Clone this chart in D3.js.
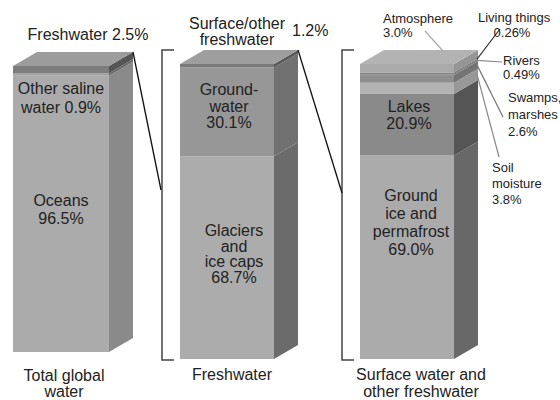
<!DOCTYPE html>
<html><head><meta charset="utf-8">
<script src="https://cdn.jsdelivr.net/npm/d3@7"></script>
<style>body{margin:0;background:#fff}svg{display:block}text{font-family:"Liberation Sans",Arial,sans-serif;fill:#222}</style>
</head><body><svg id="c" width="560" height="400"></svg>
<script>
// ---- data ----
const columns = ["Total global water", "Freshwater", "Surface water and other freshwater"];
const totalCats = ["Oceans", "Other saline water", "Freshwater"];
const totalVals = [96.5, 0.9, 2.5];
const freshCats = ["Glaciers and ice caps", "Groundwater", "Surface/other freshwater"];
const freshVals = [68.7, 30.1, 1.2];
const surfCats = ["Ground ice and permafrost", "Lakes", "Soil moisture", "Swamps, marshes", "Rivers", "Living things", "Atmosphere"];
const surfVals = [69.0, 20.9, 3.8, 2.6, 0.49, 0.26, 3.0];

// ---- styles ----
const frontCol = [["#ababab", "#a2a2a2", "#7c7c7c"],
                  ["#acacac", "#979797", "#7a7a7a"],
                  ["#ababab", "#8a8a8a", "#b3b3b3", "#8e8e8e", "#9c9c9c", "#505050", "#aaaaaa"]];
const sideCol = [["#8a8a8a", "#6a6a6a", "#555555"],
                 ["#6b6b6b", "#717171", "#5a5a5a"],
                 ["#686868", "#555555", "#989898", "#747474", "#808080", "#404040", "#959595"]];
const topCol = ["#9c9c9c", "#9e9e9e", "#b3b3b3"];

const svg = d3.select("#c");
const xLeft = d3.scaleOrdinal().domain(columns).range([13, 180, 360]);
const width = d3.scaleOrdinal().domain(columns).range([96, 94, 94]);
const yTop = d3.scaleOrdinal().domain(columns).range([66, 64, 64]);
const yBot = d3.scaleOrdinal().domain(columns).range([352, 359, 359]);
const DX = 24, DY = -14;

const sets = [[totalCats, totalVals], [freshCats, freshVals], [surfCats, surfVals]];
const yScales = [];

sets.forEach(([cats, vals], i) => {
  const col = columns[i];
  const total = d3.sum(vals);
  const y = d3.scaleLinear().domain([0, total]).range([yBot(col), yTop(col)]);
  yScales.push(y);
  const xl = xLeft(col), xr = xl + width(col);
  let acc = 0;
  const segs = vals.map((v, j) => { const s = {y0: acc, y1: acc + v, j}; acc += v; return s; });
  const g = svg.append("g");
  g.selectAll("rect.f").data(segs).join("rect")
    .attr("x", xl).attr("width", xr - xl)
    .attr("y", d => y(d.y1)).attr("height", d => y(d.y0) - y(d.y1))
    .attr("fill", d => frontCol[i][d.j]);
  g.selectAll("path.s").data(segs).join("path")
    .attr("d", d => `M${xr},${y(d.y0)}L${xr + DX},${y(d.y0) + DY}L${xr + DX},${y(d.y1) + DY}L${xr},${y(d.y1)}Z`)
    .attr("fill", d => sideCol[i][d.j]);
  const t = y(total);
  g.append("path")
    .attr("d", `M${xl},${t}L${xl + DX},${t + DY}L${xr + DX},${t + DY}L${xr},${t}Z`)
    .attr("fill", topCol[i]);
});

// brackets
[1, 2].forEach(i => {
  const col = columns[i];
  const bx = xLeft(col) - 18;
  const t = yTop(col) + DY, b = yBot(col) + 1;
  svg.append("path")
    .attr("d", `M${bx + 12},${t}H${bx}V${b}H${bx + 12}`)
    .attr("fill", "none").attr("stroke", "#444").attr("stroke-width", 1.5);
});
// connector lines
[[0, 161, 190], [1, 342, 193]].forEach(([i, ex, ey]) => {
  const col = columns[i];
  const xr = xLeft(col) + width(col) + DX;
  svg.append("line")
    .attr("x1", xr).attr("y1", yScales[i](d3.sum(sets[i][1])) + DY)
    .attr("x2", ex).attr("y2", ey)
    .attr("stroke", "#111").attr("stroke-width", 1.3);
});

// ---- labels ----
function label(lines, x, y0, lh, size, anchor) {
  const t = svg.append("text").attr("font-size", size).attr("text-anchor", anchor || "middle");
  lines.forEach((s, k) => t.append("tspan").attr("x", x).attr("y", y0 + k * lh).text(s));
}
const fmt = v => v + "%";
label(["Freshwater " + fmt(totalVals[2])], 88, 40, 0, 16);
label(["Other saline", "water " + fmt(totalVals[1])], 61, 94, 19, 16);
label(["Oceans", fmt(totalVals[0])], 61, 206, 18, 16);

label(["Surface/other", "freshwater"], 237, 29, 16, 16);
label([fmt(freshVals[2])], 292, 36, 0, 16, "start");
label(["Ground-", "water", fmt(freshVals[1])], 229, 95, 16.5, 16);
label(["Glaciers", "and", "ice caps", fmt(freshVals[0])], 234, 236, 15.5, 16);

label(["Lakes", fmt(surfVals[1])], 409, 112, 17, 16);
label(["Ground", "ice and", "permafrost", fmt(surfVals[0].toFixed(1))], 411, 201, 18, 16);

label(["Total global", "water"], 64, 381, 16, 16);
label(["Freshwater"], 232, 380, 0, 16);
label(["Surface water and", "other freshwater"], 421, 380, 17, 16);

// small annotations with leader lines
const c3 = columns[2], y3 = yScales[2];
const backX = xLeft(c3) + width(c3) + DX;
let acc3 = 0;
const mids = surfVals.map(v => { const m = acc3 + v / 2; acc3 += v; return m; });
const ann = [
  {i: 6, lines: ["Atmosphere", fmt(surfVals[6].toFixed(1))], x: 383, y: 23, lh: 14, anchor: "start", from: [425, 31], to: [443, 51], col: "#aaa"},
  {i: 5, lines: ["Living things"], x: 478, y: 22, lh: 0, anchor: "start", from: [500, 29], to: null, col: "#333"},
  {i: 4, lines: ["Rivers", fmt(surfVals[4])], x: 503, y: 65, lh: 13.5, anchor: "start", from: [502, 62], to: null, col: "#888"},
  {i: 3, lines: ["Swamps,", "marshes", fmt(surfVals[3])], x: 508, y: 102, lh: 17, anchor: "start", from: [503, 117], to: null, col: "#777"},
  {i: 2, lines: ["Soil", "moisture", fmt(surfVals[2])], x: 492, y: 172, lh: 16, anchor: "start", from: [499, 157], to: null, col: "#888"}
];
ann.forEach(a => {
  const to = a.to || [backX - 1, y3(mids[a.i]) + DY];
  svg.append("line").attr("x1", a.from[0]).attr("y1", a.from[1]).attr("x2", to[0]).attr("y2", to[1])
    .attr("stroke", a.col).attr("stroke-width", 1.2);
  label(a.lines, a.x, a.y, a.lh, 13, a.anchor);
});
label([fmt(surfVals[5])], 512, 37, 0, 13);
</script></body></html>
